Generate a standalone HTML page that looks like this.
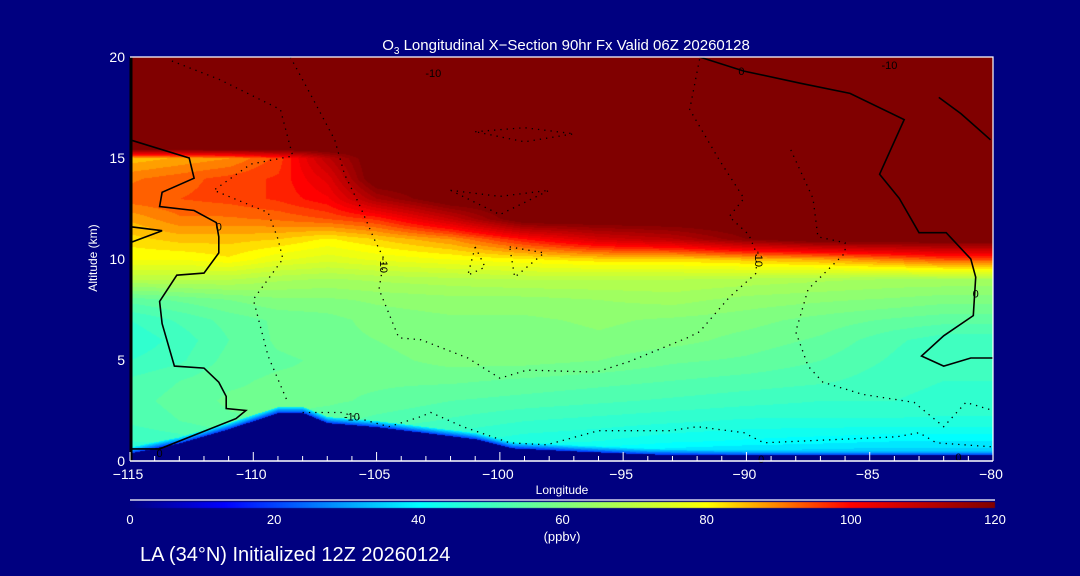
<!DOCTYPE html>
<html><head><meta charset="utf-8"><style>
html,body{margin:0;padding:0;background:#000080;}
#wrap{position:relative;width:1080px;height:576px;background:#000080;overflow:hidden;font-family:"Liberation Sans",sans-serif;}
canvas,svg{position:absolute;left:0;top:0;}
</style></head><body>
<div id="wrap">
<canvas id="cv" width="1080" height="576"></canvas>
<svg id="sv" width="1080" height="576"></svg>
</div>
<script>
// ---- data ----
const lons = [-115,-113,-111,-109,-107,-105,-102,-99,-96,-93,-90,-87,-84,-82,-80];
const alts = [0,1,2,3,4,5,6,7,8,9,10,11,12,13,14,15,15.5,20];
const r0  = [42,42,42,42,42,42,40,38,36,34,32,32,32,32,32];
const r1  = [50,51,53,55,50,50,48,46,45,43,42,41,40,40,40];
const r2  = [53,55,57,58,56,54,52,50,49,48,47,47,47,47,47];
const r3  = [54,56,58,58,58,57,55,54,53,52,51,50,50,49,49];
const r4  = [53,55,57,58,58,58,58,57,56,55,54,53,51,50,50];
const r5  = [50,52,56,57,58,59,61,61,60,58,57,55,52,50,50];
const r6  = [48,51,55,58,59,60,62,61,62,61,59,57,53,51,51];
const r7  = [50,53,56,58,59,61,62,62,63,62,61,59,57,56,56];
const r8  = [56,58,60,62,62,63,64,64,65,66,64,63,62,61,61];
const r9  = [70,70,70,68,67,68,69,70,70,70,69,68,67,67,67];
const r10 = [80,80,82,78,76,78,80,82,84,84,86,88,92,95,95];
const r11 = [84,86,86,85,82,85,90,100,108,112,120,125,125,125,125];
const r12 = [88,92,92,93,95,98,110,125,125,125,125,125,125,125,125];
const r13 = [94,95,96,98,102,115,125,125,125,125,125,125,125,125,125];
const r14 = [92,94,96,98,106,125,125,125,125,125,125,125,125,125,125];
const r15 = [86,88,90,96,112,125,125,125,125,125,125,125,125,125,125];
const r155= [125,125,125,125,125,125,125,125,125,125,125,125,125,125,125];
const r20 = [125,125,125,125,125,125,125,125,125,125,125,125,125,125,125];
const rows = [r0,r1,r2,r3,r4,r5,r6,r7,r8,r9,r10,r11,r12,r13,r14,r15,r155,r20];
const terrLon = [-115,-113,-111,-110,-109,-108,-107,-105,-103,-101,-99.5,-97,-94,-90,-85,-80];
const terrAlt = [0.4,0.9,1.6,2.0,2.4,2.4,1.9,1.7,1.4,1.1,0.65,0.5,0.35,0.3,0.3,0.3];
const xTicks = [-115,-110,-105,-100,-95,-90,-85,-80];
const yTicks = [0,5,10,15,20];
const cbTicks = [0,20,40,60,80,100,120];
// contours [lon,alt]
const zeroLeft = [[-115,15.9],[-112.6,15.0],[-112.4,14.0],[-113.7,13.3],[-113.8,12.6],[-112.4,12.4],[-111.5,11.8],[-111.4,11.1],[-111.4,10.3],[-112.0,9.3],[-113.1,9.2],[-113.8,7.9],[-113.7,6.8],[-113.2,4.7],[-112.0,4.6],[-111.4,3.9],[-111.1,3.2],[-111.1,2.6],[-110.3,2.5],[-110.7,2.1],[-113.8,0.6],[-115,0.6]];
const zeroLeft2 = [[-115,11.6],[-113.7,11.4],[-115,10.8]];
const zeroRight = [[-91.9,20.0],[-90.1,19.3],[-87.8,18.7],[-85.8,18.2],[-83.6,16.9],[-84.6,14.2],[-83.8,13.0],[-83.0,11.3],[-81.9,11.3],[-80.9,10.0],[-80.7,9.1],[-80.8,7.2],[-82.0,6.2],[-82.9,5.2],[-82.0,4.7],[-80.9,5.1],[-80.0,5.1]];
const zeroRight2 = [[-82.2,18.0],[-81.3,17.2],[-80.1,15.9]];
const dotA = [[-108.5,20.0],[-107.7,18.2],[-106.7,15.9],[-106.3,14.2],[-105.7,12.7],[-105.1,11.0],[-104.7,10.0],[-104.9,8.5],[-104.1,6.1],[-103.2,6.0],[-101.3,5.1],[-100.0,4.1],[-98.9,4.5],[-96.1,4.4],[-94.8,4.9],[-92.4,6.1],[-91.9,6.4],[-90.7,8.1],[-89.6,9.3],[-89.6,10.3],[-89.9,11.2],[-90.7,12.1],[-90.1,13.0],[-91.1,14.9],[-92.3,17.4],[-91.9,19.9]];
const dotB = [[-113.3,19.8],[-111.4,18.9],[-108.9,17.4],[-108.4,15.1],[-110.1,14.7],[-111.6,13.4],[-109.4,12.3],[-109.0,11.0],[-108.8,10.0],[-110.0,8.0],[-109.4,5.2],[-108.6,2.9]];
const dotC = [[-88.2,15.4],[-87.3,13.0],[-87.1,11.1],[-86.0,10.8],[-86.0,10.3],[-87.5,8.5],[-88.0,6.4],[-87.5,4.7],[-86.9,3.9],[-85.3,3.3],[-83.2,2.9],[-82.0,1.7],[-81.1,2.9],[-80.0,2.5]];
const dotD = [[-108.0,2.4],[-106.4,2.4],[-105.4,2.0],[-104.5,1.7],[-103.2,2.2],[-102.8,2.4],[-101.5,1.7],[-99.6,0.9],[-98.1,0.8],[-96.0,1.5],[-93.1,1.5],[-92.0,1.7],[-90.1,1.4],[-89.3,0.9],[-83.9,1.2],[-83.0,1.4],[-82.3,0.9],[-80.0,0.7]];
const loopE = [[-101,16.3],[-99,16.5],[-97,16.2],[-99,15.8],[-101,16.3]];
const loopF = [[-102,13.4],[-100,13.1],[-98,13.4],[-100,12.2],[-102,13.4]];
const loopG = [[-101,10.6],[-100.6,9.6],[-101.3,9.2],[-101,10.6]];
const loopH = [[-99.6,10.6],[-98.2,10.3],[-99.4,9.1],[-99.6,10.6]];
const labels = [["-10",-102.7,19.2,0],["0",-90.2,19.3,0],["-10",-84.2,19.6,0],["0",-111.4,11.6,0],["-10",-104.7,9.7,90],["-10",-89.5,10.0,90],["0",-80.7,8.3,0],["-10",-106.0,2.2,0],["0",-113.8,0.4,0],["0",-81.4,0.2,0],["0",-89.4,0.1,0]];

// ---- axes ----
const X0=130,X1=993,Y0=461,Y1=57;
const xs = lon => X0+(lon+115)/35*(X1-X0);
const ys = a => Y0-(a/20)*(Y0-Y1);
const CB0=130,CB1=995;
const cbx = v => CB0+v/120*(CB1-CB0);
const stops=[[0,[0,0,128]],[13,[0,0,255]],[40,[0,255,255]],[60,[128,255,128]],[80,[255,255,0]],[100,[255,0,0]],[120,[128,0,0]]];
function cmap(v){v=Math.max(0,Math.min(120,v));
 for(let i=0;i<stops.length-1;i++){const [a,ca]=stops[i],[b,cb]=stops[i+1];
  if(v<=b){const t=(v-a)/(b-a);return ca.map((c,k)=>Math.round(c+(cb[k]-c)*t));}}
 return stops[stops.length-1][1];}
function idx(arr,v){for(let i=0;i<arr.length-1;i++){if(v<=arr[i+1])return i;}return arr.length-2;}
function interp1(ax,ay,v){const i=idx(ax,v);const t=(v-ax[i])/(ax[i+1]-ax[i]);return ay[i]+(ay[i+1]-ay[i])*Math.max(0,Math.min(1,t));}
function field(lon,a){const i=idx(lons,lon),j=idx(alts,a);
 const tx=Math.max(0,Math.min(1,(lon-lons[i])/(lons[i+1]-lons[i]))),ty=Math.max(0,Math.min(1,(a-alts[j])/(alts[j+1]-alts[j])));
 const v00=rows[j][i],v10=rows[j][i+1],v01=rows[j+1][i],v11=rows[j+1][i+1];
 return (v00*(1-tx)+v10*tx)*(1-ty)+(v01*(1-tx)+v11*tx)*ty;}

const cv=document.getElementById('cv'),ctx=cv.getContext('2d');
const img=ctx.createImageData(1080,576);
for(let y=Math.round(Y1);y<Y0;y++){for(let x=X0;x<X1;x++){
 const lon=-115+(x-X0)/(X1-X0)*35,a=(Y0-y)/(Y0-Y1)*20;
 const t=interp1(terrLon,terrAlt,lon);let c;
 if(a<t) c=[0,0,128]; else { let v=field(lon,a);
   const d=a-t; if(d<0.3) v=Math.min(v,20+d*70);
   v=Math.floor(v/2.5)*2.5; c=cmap(v);}
 const p=(y*1080+x)*4;img.data[p]=c[0];img.data[p+1]=c[1];img.data[p+2]=c[2];img.data[p+3]=255;}}
for(let x=CB0;x<CB1;x++){const c=cmap((x-CB0)/(CB1-CB0)*120);for(let y=502;y<508;y++){const p=(y*1080+x)*4;img.data[p]=c[0];img.data[p+1]=c[1];img.data[p+2]=c[2];img.data[p+3]=255;}}
ctx.putImageData(img,0,0);

const NS='http://www.w3.org/2000/svg',sv=document.getElementById('sv');
function el(tag,attrs,parent){const e=document.createElementNS(NS,tag);for(const k in attrs)e.setAttribute(k,attrs[k]);(parent||sv).appendChild(e);return e;}
function txt(s,x,y,size,anchor,parent,rot){const t=el('text',{x:x,y:y,'font-size':size,fill:'#fff','text-anchor':anchor||'middle','font-family':'Liberation Sans, sans-serif'},parent);if(rot)t.setAttribute('transform','rotate('+rot+' '+x+' '+y+')');t.textContent=s;return t;}
function poly(pts,dash,name){const p=el('polyline',{points:pts.map(q=>xs(q[0]).toFixed(1)+','+ys(q[1]).toFixed(1)).join(' '),fill:'none',stroke:'#000','stroke-width':dash?1.3:1.6});
 if(dash)p.setAttribute('stroke-dasharray','1.3 5');
 
 }
poly(zeroLeft,false,'contour-0-left');poly(zeroLeft2,false,'contour-0-left-small');
poly(zeroRight,false,'contour-0-right');poly(zeroRight2,false,'contour-0-right-top');
poly(dotA,true,'contour-minus10-center');poly(dotB,true,'contour-minus10-left');
poly(dotC,true,'contour-minus10-right');poly(dotD,true,'contour-minus10-surface');
poly(loopE,true,'contour-loop-upper');poly(loopF,true,'contour-loop-mid');
poly(loopG,true,'contour-loop-a');poly(loopH,true,'contour-loop-b');
const le=el('line',{x1:X0+1,y1:Y1,x2:X0+1,y2:Y0,stroke:'#000','stroke-width':3});


labels.forEach(l=>{const t=el('text',{x:xs(l[1]),y:ys(l[2])+4,'font-size':11,fill:'#000','text-anchor':'middle','font-family':'Liberation Sans, sans-serif'});
 if(l[3])t.setAttribute('transform','rotate('+l[3]+' '+xs(l[1])+' '+ys(l[2])+')');t.textContent=l[0];
 
 });
const fr=el('path',{d:`M${X0} ${Y1}H${X1}V${Y0}`,stroke:'#fff','stroke-width':1.2,fill:'none'});


const xa=el('line',{x1:X0,y1:Y0,x2:X1,y2:Y0,stroke:'#fff','stroke-width':1.5});


for(let lon=-115;lon<=-80;lon++){const maj=(lon%5===0);
 const tk=el('line',{x1:xs(lon),y1:Y0,x2:xs(lon),y2:Y0-(maj?9:5),stroke:'#fff','stroke-width':1});
 
 }
xTicks.forEach(v=>{const t=txt((v<0?'\u2212':'')+Math.abs(v),xs(v)-2,479,14);
 
 });
yTicks.forEach(v=>{const t=txt(String(v),X0-5,ys(v)+5,14,'end');
 
 });
let t;
t=txt('Longitude',562,494,12);
t=txt('Altitude (km)',97,258,12,'middle',null,-90);
t=el('text',{x:566,y:50,'font-size':15,fill:'#fff','text-anchor':'middle','font-family':'Liberation Sans, sans-serif'});
t.innerHTML='O<tspan font-size="10" dy="4">3</tspan><tspan dy="-4"> Longitudinal X\u2212Section 90hr  Fx Valid 06Z 20260128</tspan>';

const cl=el('line',{x1:CB0,y1:500,x2:CB1,y2:500,stroke:'#fff','stroke-width':1.2});

cbTicks.forEach(v=>{const q=txt(String(v),cbx(v),524,13);
 
 });
t=txt('(ppbv)',562,541,13);
t=txt('LA (34\u00B0N) Initialized 12Z 20260124',140,561,20,'start');
</script>
</body></html>
